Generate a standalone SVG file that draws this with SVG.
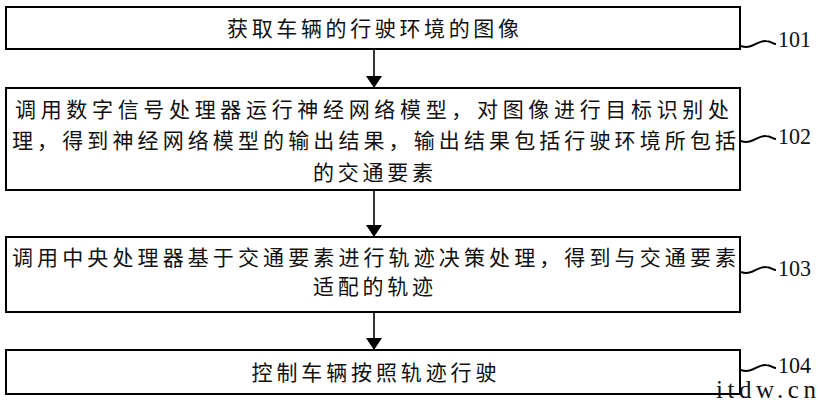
<svg xmlns="http://www.w3.org/2000/svg" width="820" height="402" viewBox="0 0 820 402">
<defs>
<style>
.box{fill:#fff;stroke:#000;stroke-width:2}
.t{font-family:"Liberation Serif","Noto Sans CJK SC",serif;font-size:21px;fill:#111}
.n{font-family:"Liberation Serif",serif;font-size:24px;fill:#111}
.c{fill:none;stroke:#000;stroke-width:1.6}
.lead{fill:none;stroke:#000;stroke-width:2}
</style>
<marker id="a" viewBox="0 0 12 16" refX="12" refY="8" markerWidth="12" markerHeight="16" markerUnits="userSpaceOnUse" orient="auto">
<path d="M0,0 L12,8 L0,16 z" fill="#000"/>
</marker>
</defs>
<rect width="820" height="402" fill="#fff"/>
<g id="connectors">
<line class="c" x1="374" y1="50" x2="374" y2="88" marker-end="url(#a)"/>
<line class="c" x1="374" y1="190" x2="374" y2="237" marker-end="url(#a)"/>
<line class="c" x1="374" y1="312" x2="374" y2="350" marker-end="url(#a)"/>
</g>
<g id="n101">
<rect class="box" x="6" y="7" width="734" height="42"/>
<text class="t" x="373" y="36" text-anchor="middle" textLength="292" lengthAdjust="spacing">获取车辆的行驶环境的图像</text>
<path class="lead" d="M741,46 C752,50 758,40 766,41 C771,41 773,44 776,44"/>
<text class="n" x="778" y="47" textLength="33" lengthAdjust="spacingAndGlyphs">101</text>
</g>
<g id="n102">
<rect class="box" x="6" y="88" width="734" height="102"/>
<text class="t" x="15" y="117" textLength="714" lengthAdjust="spacing">调用数字信号处理器运行神经网络模型，对图像进行目标识别处</text>
<text class="t" x="12" y="148" textLength="724" lengthAdjust="spacing">理，得到神经网络模型的输出结果，输出结果包括行驶环境所包括</text>
<text class="t" x="373" y="180" text-anchor="middle" textLength="120" lengthAdjust="spacing">的交通要素</text>
<path class="lead" d="M741,141 C752,145 758,135 766,136 C771,136 773,139 776,139"/>
<text class="n" x="778" y="144" textLength="33" lengthAdjust="spacingAndGlyphs">102</text>
</g>
<g id="n103">
<rect class="box" x="6" y="237" width="734" height="75"/>
<text class="t" x="12" y="265" textLength="724" lengthAdjust="spacing">调用中央处理器基于交通要素进行轨迹决策处理，得到与交通要素</text>
<text class="t" x="373" y="294" text-anchor="middle" textLength="120" lengthAdjust="spacing">适配的轨迹</text>
<path class="lead" d="M741,272 C752,276 758,266 766,267 C771,267 773,270 776,270"/>
<text class="n" x="778" y="276" textLength="33" lengthAdjust="spacingAndGlyphs">103</text>
</g>
<g id="n104">
<rect class="box" x="6" y="350" width="734" height="44"/>
<text class="t" x="374" y="380" text-anchor="middle" textLength="245" lengthAdjust="spacing">控制车辆按照轨迹行驶</text>
<path class="lead" d="M741,370 C752,374 758,364 766,365 C771,365 773,368 776,368"/>
<text class="n" x="778" y="373" textLength="33" lengthAdjust="spacingAndGlyphs">104</text>
</g>
<text x="716" y="398" style="font-family:'Liberation Serif',serif;font-size:25px;fill:#111" textLength="100" lengthAdjust="spacing">itdw.cn</text>
</svg>
